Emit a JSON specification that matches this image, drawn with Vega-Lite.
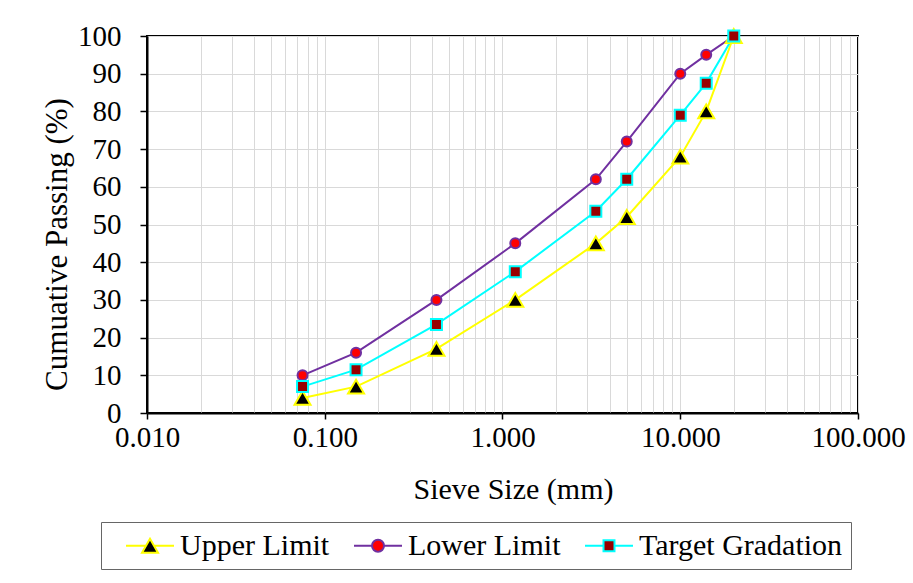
{
  "$schema": "https://vega.github.io/schema/vega-lite/v6.json",
  "width": 711,
  "height": 377,
  "autosize": {"type": "none"},
  "padding": {"left": 147, "top": 36, "right": 55, "bottom": 170},
  "background": "white",
  "config": {
    "view": {"stroke": "black", "strokeWidth": 2},
    "font": "Liberation Serif"
  },
  "data": {
    "values": [
      {"size": 0.075, "passing": 4, "series": "Upper Limit"},
      {"size": 0.15, "passing": 7, "series": "Upper Limit"},
      {"size": 0.425, "passing": 17, "series": "Upper Limit"},
      {"size": 1.18, "passing": 30, "series": "Upper Limit"},
      {"size": 3.35, "passing": 45, "series": "Upper Limit"},
      {"size": 5, "passing": 52, "series": "Upper Limit"},
      {"size": 10, "passing": 68, "series": "Upper Limit"},
      {"size": 14, "passing": 80, "series": "Upper Limit"},
      {"size": 20, "passing": 100, "series": "Upper Limit"},
      {"size": 0.075, "passing": 10, "series": "Lower Limit"},
      {"size": 0.15, "passing": 16, "series": "Lower Limit"},
      {"size": 0.425, "passing": 30, "series": "Lower Limit"},
      {"size": 1.18, "passing": 45, "series": "Lower Limit"},
      {"size": 3.35, "passing": 62, "series": "Lower Limit"},
      {"size": 5, "passing": 72, "series": "Lower Limit"},
      {"size": 10, "passing": 90, "series": "Lower Limit"},
      {"size": 14, "passing": 95, "series": "Lower Limit"},
      {"size": 20, "passing": 100, "series": "Lower Limit"},
      {"size": 0.075, "passing": 7, "series": "Target Gradation"},
      {"size": 0.15, "passing": 11.5, "series": "Target Gradation"},
      {"size": 0.425, "passing": 23.5, "series": "Target Gradation"},
      {"size": 1.18, "passing": 37.5, "series": "Target Gradation"},
      {"size": 3.35, "passing": 53.5, "series": "Target Gradation"},
      {"size": 5, "passing": 62, "series": "Target Gradation"},
      {"size": 10, "passing": 79, "series": "Target Gradation"},
      {"size": 14, "passing": 87.5, "series": "Target Gradation"},
      {"size": 20, "passing": 100, "series": "Target Gradation"}
    ]
  },
  "encoding": {
    "x": {
      "field": "size",
      "type": "quantitative",
      "scale": {"type": "log", "domain": [0.01, 100]},
      "axis": {
        "title": "Sieve Size (mm)",
        "values": [0.01, 0.02, 0.03, 0.04, 0.05, 0.06, 0.07, 0.08, 0.09, 0.1, 0.2, 0.3, 0.4, 0.5, 0.6, 0.7, 0.8, 0.9, 1, 2, 3, 4, 5, 6, 7, 8, 9, 10, 20, 30, 40, 50, 60, 70, 80, 90, 100],
        "labelExpr": "indexof([0.01, 0.1, 1, 10, 100], datum.value) >= 0 ? format(datum.value, '.3f') : ''",
        "labelOverlap": false,
        "labelFlush": false,
        "labelBound": false,
        "tickOpacity": {"condition": {"test": "indexof([0.01, 0.1, 1, 10, 100], datum.value) >= 0", "value": 1}, "value": 0},
        "grid": true,
        "gridColor": "#d9d9d9",
        "gridWidth": 1,
        "domainColor": "black",
        "domainWidth": 2,
        "tickColor": "black",
        "tickWidth": 1.5,
        "tickSize": 6,
        "labelFont": "Liberation Serif",
        "labelFontSize": 29,
        "labelColor": "black",
        "labelPadding": 4,
        "titleFont": "Liberation Serif",
        "titleFontSize": 30,
        "titleFontWeight": "normal",
        "titleColor": "black",
        "titlePadding": 22,
        "titleX": 366
      }
    },
    "y": {
      "field": "passing",
      "type": "quantitative",
      "scale": {"domain": [0, 100], "nice": false},
      "axis": {
        "title": "Cumuative Passing (%)",
        "values": [0, 10, 20, 30, 40, 50, 60, 70, 80, 90, 100],
        "grid": true,
        "gridColor": "#d9d9d9",
        "gridWidth": 1,
        "domainColor": "black",
        "domainWidth": 2,
        "tickColor": "black",
        "tickWidth": 1.5,
        "tickSize": 7,
        "labelFont": "Liberation Serif",
        "labelFontSize": 29,
        "labelColor": "black",
        "labelPadding": 19,
        "labelFlush": false,
        "labelBaseline": "middle",
        "titleFont": "Liberation Serif",
        "titleFontSize": 31,
        "titleFontWeight": "normal",
        "titleColor": "black",
        "titlePadding": 4,
        "titleY": 208
      }
    }
  },
  "layer": [
    {
      "mark": {"type": "line", "strokeWidth": 2},
      "encoding": {
        "color": {
          "field": "series",
          "type": "nominal",
          "scale": {"domain": ["Upper Limit", "Lower Limit", "Target Gradation"], "range": ["#FFFF00", "#7030A0", "#00FFFF"]},
          "legend": {
            "orient": "none",
            "legendX": -46,
            "legendY": 486,
            "direction": "horizontal",
            "title": " ",
            "titleOrient": "left",
            "titleFontSize": 29,
            "titlePadding": 35,
            "strokeColor": "#666666",
            "padding": 8,
            "labelFont": "Liberation Serif",
            "labelFontSize": 30,
            "labelColor": "black",
            "labelLimit": 400,
            "labelOffset": 5,
            "columnPadding": 20,
            "symbolSize": 841,
            "symbolStrokeWidth": 2,
            "encode": {
              "symbols": {
                "update": {
                  "shape": {"signal": "datum.value === 'Upper Limit' ? 'M-2.31,0H-0.931M-0.379,0H1M-0.655,-0.478L-0.103,0.478L-1.207,0.478Z' : datum.value === 'Lower Limit' ? 'M-2.31,0H-1.069M-0.241,0H1M-1.069,0A0.414,0.414 0 1,1 -0.241,0A0.414,0.414 0 1,1 -1.069,0Z' : 'M-2.31,0H-1.034M-0.276,0H1M-1.034,-0.379H-0.276V0.379H-1.034Z'"},
                  "fill": {"signal": "datum.value === 'Upper Limit' ? 'black' : datum.value === 'Lower Limit' ? '#FF0000' : '#990000'"},
                  "stroke": {"signal": "datum.value === 'Upper Limit' ? '#FFFF00' : datum.value === 'Lower Limit' ? '#7030A0' : '#00FFFF'"},
                  "strokeWidth": {"value": 2},
                  "fillOpacity": {"value": 1},
                  "opacity": {"value": 1}
                }
              }
            }
          }
        }
      }
    },
    {
      "transform": [{"filter": "datum.series === 'Upper Limit'"}],
      "mark": {"type": "point", "shape": "triangle-up", "filled": true, "fill": "#000000", "stroke": "#FFFF00", "strokeWidth": 2, "size": 256, "opacity": 1}
    },
    {
      "transform": [{"filter": "datum.series === 'Lower Limit'"}],
      "mark": {"type": "point", "shape": "circle", "filled": true, "fill": "#FF0000", "stroke": "#7030A0", "strokeWidth": 2, "size": 100, "opacity": 1}
    },
    {
      "transform": [{"filter": "datum.series === 'Target Gradation'"}],
      "mark": {"type": "point", "shape": "square", "filled": true, "fill": "#990000", "stroke": "#00FFFF", "strokeWidth": 2, "size": 121, "opacity": 1}
    }
  ]
}
